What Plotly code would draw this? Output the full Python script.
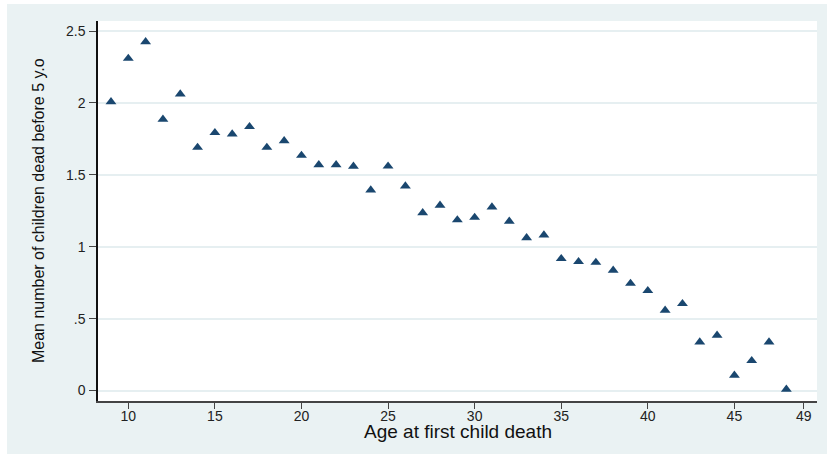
import plotly.graph_objects as go

age = [9, 10, 11, 12, 13, 14, 15, 16, 17, 18, 19, 20, 21, 22, 23, 24, 25, 26, 27, 28,
       29, 30, 31, 32, 33, 34, 35, 36, 37, 38, 39, 40, 41, 42, 43, 44, 45, 46, 47, 48]
mean_dead = [2.008, 2.31, 2.425, 1.886, 2.062, 1.691, 1.793, 1.784, 1.835, 1.691,
             1.737, 1.635, 1.570, 1.570, 1.559, 1.394, 1.560, 1.422, 1.236, 1.288,
             1.186, 1.204, 1.276, 1.177, 1.062, 1.081, 0.917, 0.896, 0.891, 0.836,
             0.745, 0.694, 0.558, 0.604, 0.337, 0.384, 0.106, 0.207, 0.337, 0.008]

x_ticks = [10, 15, 20, 25, 30, 35, 40, 45, 49]
y_ticks = [0, 0.5, 1, 1.5, 2, 2.5]
y_tick_text = ["0", ".5", "1", "1.5", "2", "2.5"]

x_title = "Age at first child death"
y_title = "Mean number of children dead before 5 y.o"

BG = "#EAF2F3"
FONT = "Liberation Sans, Arial, sans-serif"

fig = go.Figure(
    go.Scatter(
        x=age, y=mean_dead, mode="markers",
        marker=dict(symbol="triangle-up", size=9.5, color="#1a476f",
                    line=dict(width=0)),
        showlegend=False,
    )
)

fig.update_layout(
    width=827, height=455,
    margin=dict(l=98, r=10, t=21, b=54),
    paper_bgcolor=BG, plot_bgcolor="white",
    font=dict(family=FONT, color="#222"),
    shapes=[
        dict(type="rect", xref="paper", yref="paper", x0=-0.2, x1=1.1,
             y0=1.0447, y1=1.2, fillcolor="white", line=dict(width=0), layer="above"),
        dict(type="rect", xref="paper", yref="paper", x0=-0.2, x1=-0.1266,
             y0=-0.3, y1=1.2, fillcolor="white", line=dict(width=0), layer="above"),
        dict(type="rect", xref="paper", yref="paper", x0=-0.2, x1=1.1,
             y0=-0.3, y1=-0.1395, fillcolor="white", line=dict(width=0), layer="above"),
    ],
    annotations=[
        dict(text=x_title, xref="paper", yref="paper", x=0.5, y=-0.081,
             xanchor="center", yanchor="middle", showarrow=False,
             font=dict(size=19, family=FONT, color="#111")),
        dict(text=y_title, xref="paper", yref="paper", x=-0.0828, y=0.501,
             xanchor="center", yanchor="middle", showarrow=False, textangle=-90,
             font=dict(size=16, family=FONT, color="#111")),
    ],
)

fig.update_xaxes(
    range=[8.25, 49.77], tickmode="array", tickvals=x_ticks, automargin=False,
    ticks="outside", ticklen=6, tickcolor="#444", tickwidth=1,
    ticklabelstandoff=-5,
    showline=True, linecolor="#444", linewidth=1.5,
    showgrid=False, zeroline=False,
    tickfont=dict(size=14, family=FONT, color="#222"),
)
fig.update_yaxes(
    range=[-0.073, 2.570], tickmode="array", tickvals=y_ticks, ticktext=y_tick_text,
    automargin=False,
    ticks="outside", ticklen=7, tickcolor="#444", tickwidth=1,
    ticklabelstandoff=1,
    showline=True, linecolor="#111", linewidth=1.5,
    showgrid=True, gridcolor="#E6EFF1", gridwidth=1.5, zeroline=False,
    tickfont=dict(size=14, family=FONT, color="#222"),
)

fig.write_html(
    "out.html",
    config={"displayModeBar": False},
    post_script="document.body.style.margin='0';document.body.style.overflow='hidden';",
)
